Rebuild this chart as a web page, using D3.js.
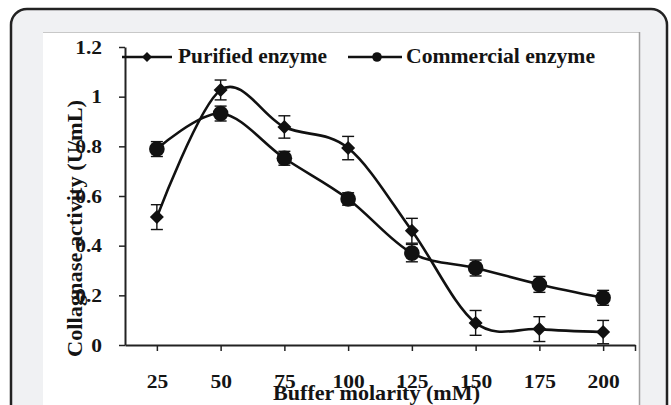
<!DOCTYPE html>
<html>
<head>
<meta charset="utf-8">
<script src="https://cdn.jsdelivr.net/npm/d3@7"></script>
<style>
html,body{margin:0;padding:0;background:#fff;}
svg{display:block;}
text{font-family:"Liberation Serif","Times New Roman",serif;font-weight:bold;fill:#141414;}
</style>
</head>
<body>
<svg id="chart" width="671" height="405"></svg>
<script>
// ---- data ----
const molarity = [25, 50, 75, 100, 125, 150, 175, 200];
const purified = [0.515, 1.027, 0.878, 0.793, 0.46, 0.089, 0.064, 0.052];
const purifiedErr = [0.05, 0.04, 0.045, 0.047, 0.05, 0.05, 0.05, 0.047];
const commercial = [0.789, 0.932, 0.752, 0.588, 0.37, 0.31, 0.244, 0.19];
const commercialErr = [0.03, 0.03, 0.028, 0.025, 0.035, 0.032, 0.032, 0.03];
const yTicks = [0, 0.2, 0.4, 0.6, 0.8, 1, 1.2];
const yTickLabels = ["0", "0.2", "0.4", "0.6", "0.8", "1", "1.2"];
const xTickLabels = ["25", "50", "75", "100", "125", "150", "175", "200"];
const seriesNames = ["Purified enzyme", "Commercial enzyme"];
const xTitle = "Buffer molarity (mM)";
const yTitle = "Collagnase activity (U/mL)";

const svg = d3.select("#chart");

// frame
svg.append("rect").attr("x", 11).attr("y", 9).attr("width", 656).attr("height", 430)
  .attr("rx", 16).attr("fill", "#f0f1f3").attr("stroke", "#222").attr("stroke-width", 2.5);
svg.append("rect").attr("x", 43).attr("y", 32).attr("width", 597).attr("height", 400)
  .attr("fill", "#fff");
svg.append("line").attr("x1", 43).attr("x2", 640).attr("y1", 32.5).attr("y2", 32.5)
  .attr("stroke", "#c8c8c8").attr("stroke-width", 1);
svg.append("line").attr("x1", 639.5).attr("x2", 639.5).attr("y1", 32).attr("y2", 405)
  .attr("stroke", "#a0a0a0").attr("stroke-width", 1.5);

// scales
const x = d3.scaleLinear().domain([12.5, 212.5]).range([125, 635]);
const y = d3.scaleLinear().domain([0, 1.2]).range([345, 47]);

// axes
const gy = svg.append("g").attr("transform", "translate(125,0)")
  .call(d3.axisLeft(y).tickValues(yTicks).tickFormat((d, i) => yTickLabels[i])
    .tickSize(6).tickSizeOuter(0).tickPadding(17));
const gx = svg.append("g").attr("transform", "translate(0,345)")
  .call(d3.axisBottom(x).tickValues(molarity.concat([212.5]))
    .tickFormat((d, i) => i < xTickLabels.length ? xTickLabels[i] : "")
    .tickSize(6).tickSizeOuter(0));
[gx, gy].forEach(g => {
  g.selectAll("path.domain").attr("stroke", "#222").attr("stroke-width", 2);
  g.selectAll(".tick line").attr("stroke", "#222").attr("stroke-width", 1.5);
  g.selectAll(".tick text").attr("font-size", 19).attr("font-family", null).attr("fill", "#141414");
});
gy.selectAll(".tick text").attr("dy", "0.33em");
gx.selectAll(".tick text").attr("y", 43).attr("dy", 0);
svg.selectAll(".tick text").each(function () {
  const t = d3.select(this);
  const len = this.getComputedTextLength();
  if (len > 0) t.attr("textLength", len * 1.13).attr("lengthAdjust", "spacingAndGlyphs");
});

// lines
const line = d3.line().x((d, i) => x(molarity[i])).y(d => y(d)).curve(d3.curveCardinal.tension(0));
[purified, commercial].forEach(vals => {
  svg.append("path").datum(vals).attr("d", line)
    .attr("fill", "none").attr("stroke", "#111").attr("stroke-width", 2.6);
});

// error bars
function errBars(vals, errs) {
  const g = svg.append("g").attr("stroke", "#111").attr("stroke-width", 1.4);
  vals.forEach((v, i) => {
    const cx = x(molarity[i]);
    const t = y(v + errs[i]), b = y(v - errs[i]);
    g.append("line").attr("x1", cx).attr("x2", cx).attr("y1", t).attr("y2", b);
    g.append("line").attr("x1", cx - 6).attr("x2", cx + 6).attr("y1", t).attr("y2", t);
    g.append("line").attr("x1", cx - 6).attr("x2", cx + 6).attr("y1", b).attr("y2", b);
  });
}
errBars(purified, purifiedErr);
errBars(commercial, commercialErr);

function diamond(cx, cy, r) {
  return `M${cx},${cy - r}L${cx + r},${cy}L${cx},${cy + r}L${cx - r},${cy}Z`;
}
// markers
svg.append("g").selectAll("path").data(purified).join("path")
  .attr("d", (d, i) => diamond(x(molarity[i]), y(d), 7)).attr("fill", "#111");
svg.append("g").selectAll("circle").data(commercial).join("circle")
  .attr("cx", (d, i) => x(molarity[i])).attr("cy", d => y(d)).attr("r", 7.8).attr("fill", "#111");

// legend
const lg = svg.append("g");
lg.append("line").attr("x1", 122).attr("x2", 172).attr("y1", 57).attr("y2", 57).attr("stroke", "#111").attr("stroke-width", 2.6);
lg.append("path").attr("d", diamond(147, 57, 5)).attr("fill", "#111");
lg.append("text").attr("x", 178).attr("y", 63).attr("font-size", 21).text(seriesNames[0])
  .attr("textLength", 149).attr("lengthAdjust", "spacingAndGlyphs");
lg.append("line").attr("x1", 348).attr("x2", 402).attr("y1", 57).attr("y2", 57).attr("stroke", "#111").attr("stroke-width", 2.6);
lg.append("circle").attr("cx", 377).attr("cy", 57).attr("r", 4.8).attr("fill", "#111");
lg.append("text").attr("x", 406).attr("y", 63).attr("font-size", 21).text(seriesNames[1])
  .attr("textLength", 189).attr("lengthAdjust", "spacingAndGlyphs");

// axis titles
svg.append("text").attr("x", 273).attr("y", 400).attr("font-size", 21).text(xTitle)
  .attr("textLength", 207).attr("lengthAdjust", "spacingAndGlyphs");
svg.append("text").attr("transform", "translate(82,357) rotate(-90)").attr("font-size", 21)
  .text(yTitle).attr("textLength", 257).attr("lengthAdjust", "spacingAndGlyphs");
</script>
</body>
</html>
